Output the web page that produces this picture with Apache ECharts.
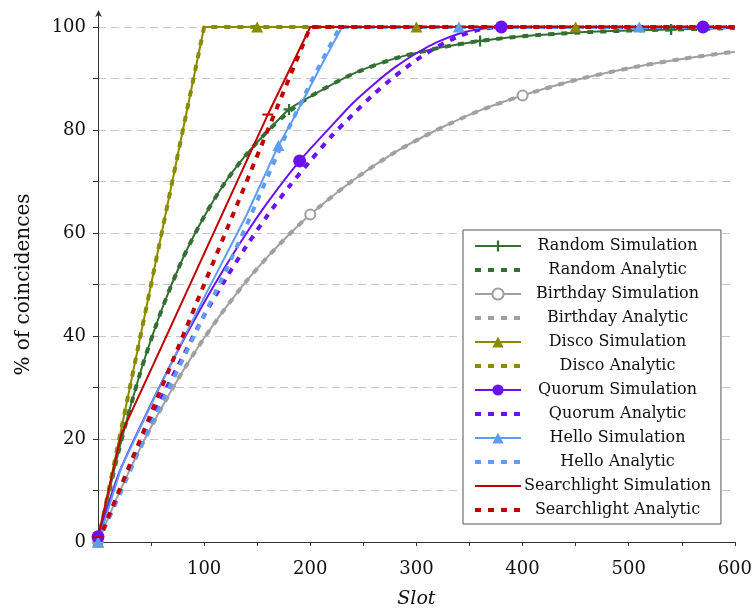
<!DOCTYPE html>
<html><head><meta charset="utf-8">
<script src="https://cdn.jsdelivr.net/npm/echarts@6/dist/echarts.min.js"></script>
<style>html,body{margin:0;padding:0;background:#fff}#c{width:755px;height:614px}</style>
</head><body><div id="c"></div>
<script>
// ---- data ----
const seriesNames = ['Random Simulation','Random Analytic','Birthday Simulation','Birthday Analytic',
  'Disco Simulation','Disco Analytic','Quorum Simulation','Quorum Analytic',
  'Hello Simulation','Hello Analytic','Searchlight Simulation','Searchlight Analytic'];
const xTicks = [100,200,300,400,500,600];
const yTicks = [0,20,40,60,80,100];

const randomX      = [0,20,40,60,80,100,120,140,160,180,200,240,280,320,360,400,450,500,540,600];
const randomSim    = [0,18.1,33,45.1,55.1,63.2,69.9,75.3,79.8,84,86.5,90.9,93.9,95.9,97.3,98.2,98.9,99.3,99.5,99.8];
const randomAn     = [0,18.1,33,45.1,55.1,63.2,69.9,75.3,79.8,83.6,86.5,90.9,93.9,95.9,97.3,98.2,98.9,99.3,99.5,99.8];

const birthdayX    = [0,20,40,60,80,100,120,140,160,180,200,240,280,320,360,400,450,500,550,600];
const birthdaySim  = [0,9.6,18.3,26.1,33.2,39.6,45.4,50.7,55.4,59.7,63.6,70.2,75.7,80.1,83.8,86.7,89.7,92,93.8,95.2];
const birthdayAn   = [0,9.6,18.3,26.1,33.2,39.6,45.4,50.7,55.4,59.7,63.6,70.2,75.7,80.1,83.8,86.7,89.7,92,93.8,95.2];

const discoX       = [0,100,150,300,450,600];
const discoSim     = [0,100,100,100,100,100];
const discoAnX     = [0,100,600];
const discoAn      = [0,100,100];

const quorumX      = [0,20,40,60,80,100,120,140,160,190,220,240,260,280,300,320,340,360,380,450,570,600];
const quorumSim    = [1,13.5,22.5,31,39,46.5,53.5,60,66,74,80.8,85.2,88.9,92.2,94.9,97.1,98.7,99.6,100,100,100,100];
const quorumAnX    = [0,20,40,60,80,100,120,140,160,180,200,220,240,260,280,300,320,340,360,380,600];
const quorumAn     = [0,9.5,19,28,36,44,51,57.5,63.5,69,74,78.8,83,87,90.5,93.6,96.2,98.2,99.5,100,100];

const helloX       = [0,22,60,100,120,140,170,185,200,215,230,340,510,600];
const helloSim     = [0,14.5,31,47.5,55.5,63.5,77,82.5,88.5,94.3,100,100,100,100];
const helloAnX     = [0,20,40,60,80,100,120,140,160,180,200,215,228,600];
const helloAn      = [0,9,18.5,27,35.5,44,52.5,61.5,71,80.5,89,95,100,100];

const searchX      = [0,22,60,100,130,160,200,320,480,600];
const searchSim    = [1,21,38,56,69.5,83,100,100,100,100];
const searchAnX    = [0,50,100,150,200,600];
const searchAn     = [0,25,50,75,100,100];

// marker positions (slots) for the simulation curves
const randomMarks   = [0,180,360,540];
const birthdayMarks = [0,200,400];
const discoMarks    = [0,150,300,450];
const quorumMarks   = [0,190,380,570];
const helloMarks    = [0,170,340,510];
const searchMarks   = [0,160,320,480];

// ---- styling ----
const FONT = 'DejaVu Serif';
const C = {random:'#336e33', birthday:'#a0a0a0', disco:'#8b8b00', quorum:'#6a12f4', hello:'#5f9cf2', search:'#c00000'};
const DASH = [6,7];
const PLUS = 'path://M4,0H6V4H10V6H6V10H4V6H0V4H4Z';
const MINUS = 'path://M0,0H10V2H0Z';

function simSeries(name, xs, ys, marks, color, symbol, size, smooth, extraItem){
  return {
    name, type:'line',
    data: xs.map((x,i)=> marks.indexOf(x) >= 0 ? [x, ys[i]] : {value:[x, ys[i]], symbol:'none'}),
    symbol, symbolSize:size, showSymbol:true, showAllSymbol:true,
    smooth: smooth ? 0.25 : false,
    lineStyle:{color, width:2},
    itemStyle: Object.assign({color}, extraItem || {}),
    emphasis:{disabled:true}, animation:false
  };
}
function anSeries(name, xs, ys, color, smooth){
  return {
    name, type:'line',
    data: xs.map((x,i)=>[x, ys[i]]),
    symbol:'none', showSymbol:false,
    smooth: smooth ? 0.25 : false,
    lineStyle:{color, width:4, type:DASH, cap:'butt'},
    itemStyle:{color},
    emphasis:{disabled:true}, animation:false
  };
}

const series = [
  simSeries(seriesNames[0], randomX, randomSim, randomMarks, C.random, PLUS, 11, true),
  anSeries(seriesNames[1], randomX, randomAn, C.random, true),
  simSeries(seriesNames[2], birthdayX, birthdaySim, birthdayMarks, C.birthday, 'emptyCircle', 10, true, {borderWidth:2, borderColor:C.birthday}),
  anSeries(seriesNames[3], birthdayX, birthdayAn, C.birthday, true),
  simSeries(seriesNames[4], discoX, discoSim, discoMarks, C.disco, 'triangle', [12,11], false),
  anSeries(seriesNames[5], discoAnX, discoAn, C.disco, false),
  simSeries(seriesNames[6], quorumX, quorumSim, quorumMarks, C.quorum, 'circle', 13, true),
  anSeries(seriesNames[7], quorumAnX, quorumAn, C.quorum, true),
  simSeries(seriesNames[8], helloX, helloSim, helloMarks, C.hello, 'triangle', [12,11], false),
  anSeries(seriesNames[9], helloAnX, helloAn, C.hello, false),
  simSeries(seriesNames[10], searchX, searchSim, searchMarks, C.search, MINUS, [11,2], false),
  anSeries(seriesNames[11], searchAnX, searchAn, C.search, false)
];

const legendData = seriesNames.map((n,i)=>{
  const analytic = n.indexOf('Analytic') >= 0;
  if (analytic) return {name:n, itemStyle:{opacity:0}, lineStyle:{width:4, type:DASH}};
  if (n === 'Searchlight Simulation') return {name:n, itemStyle:{opacity:0}, lineStyle:{width:2}};
  return {name:n, lineStyle:{width:2}};
});

const chart = echarts.init(document.getElementById('c'), null, {renderer:'canvas'});
chart.setOption({
  backgroundColor:'#fff',
  animation:false,
  textStyle:{fontFamily:FONT},
  grid:{left:98, right:18, top:27, bottom:70, containLabel:false},
  xAxis:{
    type:'value', min:0, max:600, interval:50,
    name:'Slot', nameLocation:'middle', nameGap:48,
    nameTextStyle:{fontFamily:FONT, fontSize:19, fontStyle:'italic', color:'#111'},
    axisLine:{show:true, onZero:false, lineStyle:{color:'#333', width:1}},
    axisTick:{show:true, length:4, lineStyle:{color:'#333'}},
    axisLabel:{fontFamily:FONT, fontSize:18, color:'#111', margin:18,
      formatter:v=> xTicks.indexOf(v) >= 0 ? String(v) : ''},
    splitLine:{show:false}
  },
  yAxis:{
    type:'value', min:0, max:100, interval:10,
    name:'% of coincidences', nameLocation:'middle', nameGap:64, nameRotate:90,
    nameTextStyle:{fontFamily:FONT, fontSize:20, color:'#111'},
    axisLine:{show:true, onZero:false, lineStyle:{color:'#333', width:1}},
    axisTick:{show:true, length:5, lineStyle:{color:'#333'}},
    axisLabel:{fontFamily:FONT, fontSize:18, color:'#111', margin:12,
      formatter:v=> yTicks.indexOf(v) >= 0 ? String(v) : ''},
    splitLine:{show:true, lineStyle:{color:'#c8c8c8', width:1, type:[8,5]}}
  },
  legend:{
    orient:'vertical', left:463, top:230,
    padding:[8,10,6,10], itemGap:8, itemWidth:46, itemHeight:14,
    backgroundColor:'#fff', borderColor:'#555', borderWidth:1,
    data: legendData,
    selectedMode:false,
    formatter: n => '{t|' + n + '}',
    textStyle:{fontFamily:FONT, fontSize:16, color:'#111', lineHeight:16,
      rich:{t:{width:183, align:'center', fontFamily:FONT, fontSize:16, lineHeight:16, color:'#111'}}}
  },
  graphic:[
    {type:'line', shape:{x1:98.5, y1:27, x2:98.5, y2:14}, style:{stroke:'#333', lineWidth:1}, silent:true},
    {type:'polygon', shape:{points:[[98.5,10],[95.2,17],[98.5,15.2],[101.8,17]]}, style:{fill:'#333'}, silent:true}
  ],
  series
});
</script>
</body></html>
